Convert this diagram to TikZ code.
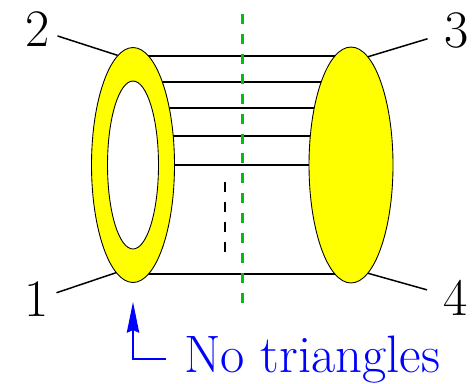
\documentclass[tikz,border=0pt]{standalone}
\usetikzlibrary{shapes.geometric,arrows.meta,calc}
\definecolor{ringyellow}{RGB}{255,255,0}
\definecolor{cutgreen}{RGB}{0,190,20}
\definecolor{noteblue}{RGB}{0,0,255}
\pgfdeclarelayer{bg}
\pgfsetlayers{bg,main}

\begin{document}
\begin{tikzpicture}[x=0.02cm, y=-0.02cm,
    blob/.style={ellipse, draw, line width=0.5pt, fill=ringyellow, inner sep=0pt},
    hole/.style={ellipse, draw, line width=0.5pt, fill=white, inner sep=0pt},
    num/.style={font=\fontsize{30}{36}\selectfont, inner sep=4.3pt},
    leg/.style={line width=0.85pt},
    cut/.style={cutgreen, line width=1.7pt, dash pattern=on 5.67pt off 5.67pt},
    pointer/.style={noteblue, line width=1.1pt, -{Stealth[length=17.5pt, width=7pt, inset=1.5pt]}}]
    \useasboundingbox (0,0) rectangle (475,383);
    % left ring and right blob
    \node[blob, minimum width=1.66cm, minimum height=4.7cm] (Lout) at (133,165) {};
    \node[hole, minimum width=1.02cm, minimum height=3.36cm] (Lin) at (133,165) {};
    \node[blob, minimum width=1.68cm, minimum height=4.72cm] (R) at (351,165) {};
    % propagators
    \begin{pgfonlayer}{bg}
        \foreach \dy in {-109,-83,-57,-29,0,109}
            \draw[leg] ($(Lout.center)+(0,\dy)$) -- ($(R.center)+(0,\dy)$);
    \end{pgfonlayer}
    \draw[line width=0.7pt, dash pattern=on 5.67pt off 5.67pt] (225,182) -- (225,252);
    % cut
    \draw[cut] (242,14) -- (242,307);
    % external legs
    \node[num] (n2) at (37.5,29.5) {2};
    \node[num] (n1) at (36.5,299.5) {1};
    \node[num, inner xsep=9.4pt] (n3) at (456.5,30) {3};
    \node[num, inner xsep=9.4pt] (n4) at (456,298) {4};
    \draw[leg] (n2) -- (Lout.98);
    \draw[leg] (n1) -- (Lout.261);
    \draw[leg] (n3) -- (R.81);
    \draw[leg] (n4) -- (R.279);
    % note
    \node[anchor=base west, inner sep=0pt, text=noteblue, font=\fontsize{30}{36}\selectfont] (txt) at (184,372) {No triangles};
    \draw[pointer] ($(txt.base west)+(-18,-13)$) -| ($(Lout.south)+(0,19)$);
\end{tikzpicture}
\end{document}
